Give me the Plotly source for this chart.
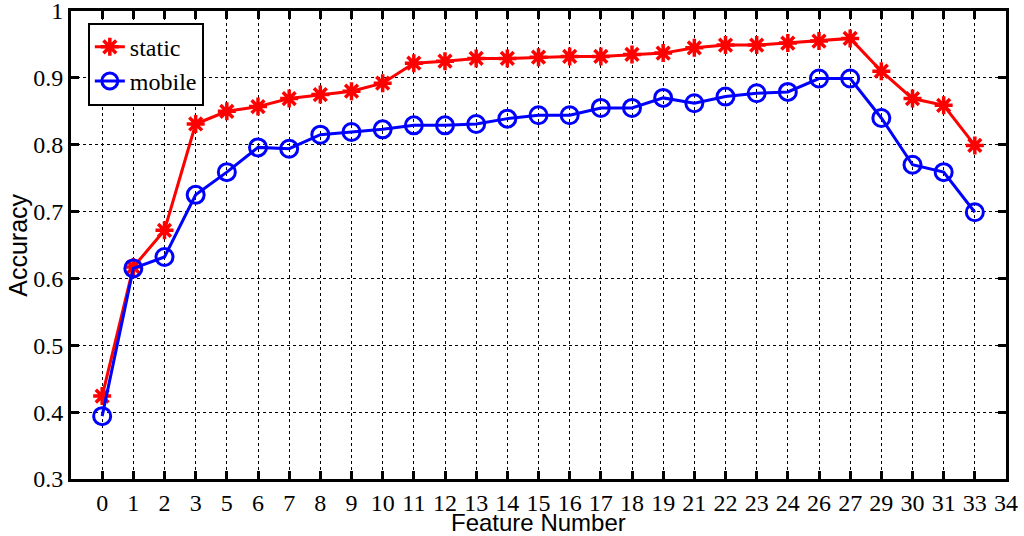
import plotly.graph_objects as go

# tick labels of the feature-number axis (categorical, evenly spaced)
feature_labels = ["0", "1", "2", "3", "5", "6", "7", "8", "9", "10", "11", "12", "13", "14", "15",
                  "16", "17", "18", "19", "21", "22", "23", "24", "26", "27", "29", "30", "31", "33", "34"]

static_acc = [0.424, 0.617, 0.672, 0.831, 0.850, 0.857, 0.869, 0.875, 0.880, 0.892,
              0.922, 0.925, 0.929, 0.929, 0.931, 0.932, 0.932, 0.935, 0.937,
              0.945, 0.949, 0.949, 0.952, 0.955, 0.959, 0.910, 0.869, 0.859, 0.799]

mobile_acc = [0.394, 0.615, 0.632, 0.725, 0.759, 0.796, 0.794, 0.815, 0.819, 0.823,
              0.829, 0.829, 0.831, 0.839, 0.844, 0.844, 0.855, 0.855, 0.870,
              0.862, 0.872, 0.877, 0.879, 0.899, 0.899, 0.840, 0.770, 0.759, 0.699]

y_ticks = [0.3, 0.4, 0.5, 0.6, 0.7, 0.8, 0.9, 1.0]
y_tick_text = ["0.3", "0.4", "0.5", "0.6", "0.7", "0.8", "0.9", "1"]

serif = "Liberation Serif"
sans = "Liberation Sans"

fig = go.Figure()

fig.add_trace(go.Scatter(
    x=list(range(len(static_acc))), y=static_acc, name="static",
    mode="lines+markers",
    line=dict(color="#ff0000", width=3),
    marker=dict(symbol="asterisk-open", size=15, line=dict(color="#ff0000", width=3.5)),
))
fig.add_trace(go.Scatter(
    x=list(range(len(mobile_acc))), y=mobile_acc, name="mobile",
    mode="lines+markers",
    line=dict(color="#0000ff", width=3),
    marker=dict(symbol="circle-open", size=17, line=dict(color="#0000ff", width=3)),
))

axis_common = dict(
    showline=True, linecolor="black", linewidth=3, mirror="ticks",
    ticks="inside", ticklen=8, tickwidth=3, tickcolor="black",
    showgrid=True, gridcolor="black", griddash="dot", gridwidth=1,
    zeroline=False, automargin=False, ticklabeloverflow="allow",
    tickfont=dict(family=serif, size=24, color="black"),
)

fig.update_xaxes(
    range=[-1, len(feature_labels) - 1],
    tickvals=list(range(len(feature_labels))), ticktext=feature_labels,
    **axis_common,
)
fig.update_yaxes(
    range=[0.3, 1.0], tickvals=y_ticks, ticktext=y_tick_text,
    **axis_common,
)

# axis titles placed as annotations so they sit where the original has them
fig.add_annotation(text="Feature Number", xref="paper", yref="paper",
                   x=0.5, y=-0.093, xanchor="center", yanchor="middle", showarrow=False,
                   font=dict(family=sans, size=24, color="black"))
fig.add_annotation(text="Accuracy", xref="paper", yref="paper", textangle=-90,
                   x=-0.057, y=0.5, xanchor="center", yanchor="middle", showarrow=False,
                   font=dict(family=sans, size=25, color="black"))

fig.update_layout(
    width=1024, height=536,
    margin=dict(l=71, r=18, t=11, b=57),
    plot_bgcolor="white", paper_bgcolor="white",
    showlegend=True,
    legend=dict(
        x=0.018, y=0.975, xanchor="left", yanchor="top",
        bgcolor="white", bordercolor="black", borderwidth=2,
        font=dict(family=serif, size=24, color="black"),
        itemwidth=30, tracegroupgap=0,
    ),
)

# drop the browser's default body margin so the figure fills the window
fig.write_html("out.html", config={"displayModeBar": False},
               post_script="document.body.style.margin = '0';")
